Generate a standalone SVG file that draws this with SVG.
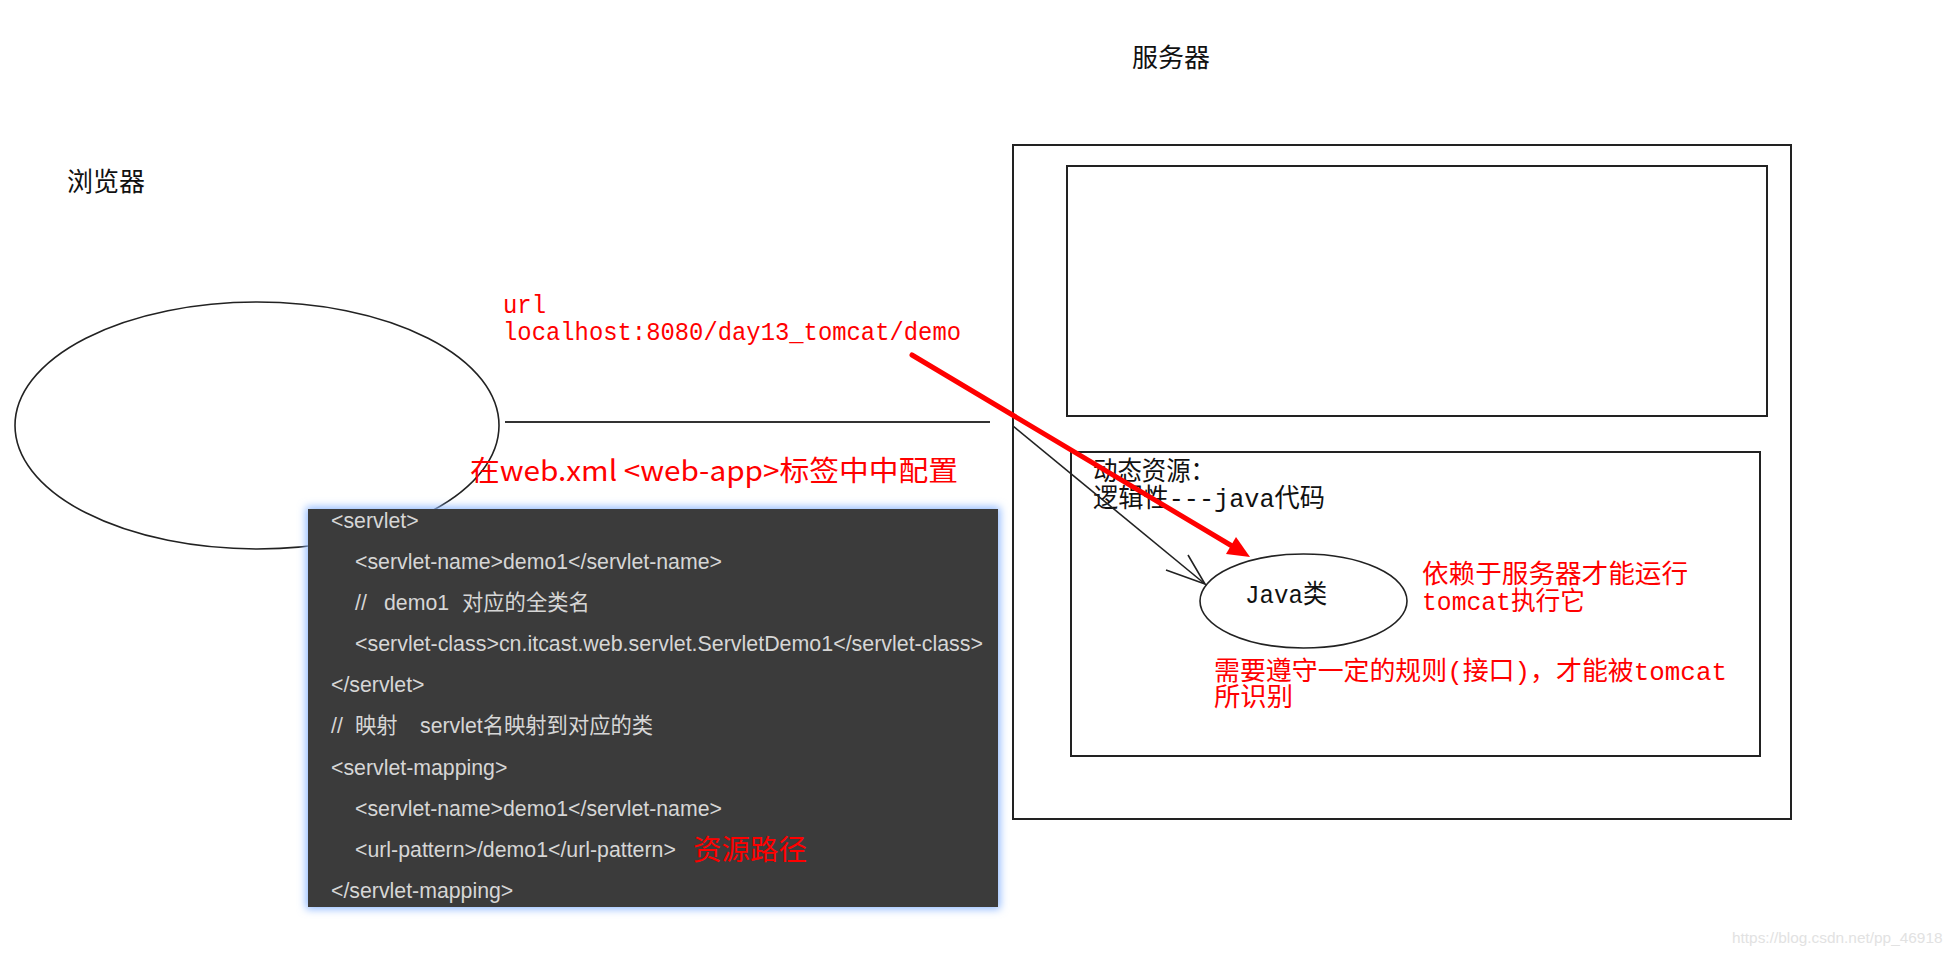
<svg xmlns="http://www.w3.org/2000/svg" width="1957" height="956" viewBox="0 0 1957 956">
<defs>
<style>
.ln{fill:none;stroke:#222;stroke-width:1.6}
.box{fill:none;stroke:#222;stroke-width:2}
.lbl{font-family:"Noto Sans CJK SC","Liberation Sans",sans-serif;font-size:26px;fill:#111}
.mono{font-family:"Liberation Mono","Noto Sans CJK SC",monospace;font-size:26px}
.red{fill:#ff0000}
.blk{fill:#111}
.code{font-family:"Liberation Sans","Noto Sans CJK SC",sans-serif;font-size:21.3px;fill:#d6d6d6}
.redsans{font-family:"Noto Sans CJK SC","Liberation Sans",sans-serif;fill:#ff0000}
</style>
<filter id="glow" x="-10%" y="-10%" width="120%" height="120%">
<feGaussianBlur stdDeviation="4"/>
</filter>
</defs>
<rect width="1957" height="956" fill="#ffffff"/>

<g id="browser">
<text class="lbl" x="67" y="191">浏览器</text>
<ellipse class="ln" cx="257" cy="425.5" rx="242" ry="123.5"/>
</g>

<g id="server">
<text class="lbl" x="1132" y="67">服务器</text>
<rect class="box" x="1013" y="145" width="778" height="674"/>
</g>

<g id="static-resources">
<rect class="box" x="1067" y="166" width="700" height="250"/>
</g>

<g id="dynamic-resources">
<rect class="box" x="1071" y="452" width="689" height="304"/>
<text class="mono blk" x="1093" y="480" textLength="122" lengthAdjust="spacingAndGlyphs">动态资源：</text>
<text class="mono blk" x="1093" y="507" textLength="232" lengthAdjust="spacingAndGlyphs">逻辑性---java代码</text>
<text class="mono red" x="1422" y="583" textLength="266" lengthAdjust="spacingAndGlyphs">依赖于服务器才能运行</text>
<text class="mono red" x="1422" y="610" textLength="163" lengthAdjust="spacingAndGlyphs">tomcat执行它</text>
<text class="mono red" x="1214" y="680" textLength="513" lengthAdjust="spacingAndGlyphs">需要遵守一定的规则(接口)，才能被tomcat</text>
<text class="mono red" x="1214" y="706" textLength="79" lengthAdjust="spacingAndGlyphs">所识别</text>
</g>

<g id="java-class">
<ellipse class="ln" cx="1303.5" cy="601" rx="103.5" ry="47"/>
<text class="mono blk" x="1245" y="603" font-size="27" textLength="82" lengthAdjust="spacingAndGlyphs">Java类</text>
</g>

<g id="url-label">
<text class="mono red" x="503" y="313" font-size="24" textLength="43" lengthAdjust="spacingAndGlyphs">url</text>
<text class="mono red" x="503" y="340" font-size="24" textLength="458" lengthAdjust="spacingAndGlyphs">localhost:8080/day13_tomcat/demo</text>
</g>

<g id="config-label">
<text class="redsans" x="470" y="481" font-size="28" textLength="488" lengthAdjust="spacingAndGlyphs">在web.xml &lt;web-app&gt;标签中中配置</text>
</g>

<g id="code-box">
<rect x="306" y="507" width="694" height="402" fill="#8db8ff" filter="url(#glow)"/>
<rect x="308" y="509" width="690" height="398" fill="#3b3b3b"/>
<text class="code" x="331" y="528">&lt;servlet&gt;</text>
<text class="code" x="355" y="569">&lt;servlet-name&gt;demo1&lt;/servlet-name&gt;</text>
<text class="code" y="610"><tspan x="355">//</tspan><tspan x="384">demo1</tspan><tspan x="462">对应的全类名</tspan></text>
<text class="code" x="355" y="651" textLength="628" lengthAdjust="spacingAndGlyphs">&lt;servlet-class&gt;cn.itcast.web.servlet.ServletDemo1&lt;/servlet-class&gt;</text>
<text class="code" x="331" y="692">&lt;/servlet&gt;</text>
<text class="code" y="733"><tspan x="331">//</tspan><tspan x="355">映射</tspan><tspan x="420">servlet名映射到对应的类</tspan></text>
<text class="code" x="331" y="775">&lt;servlet-mapping&gt;</text>
<text class="code" x="355" y="816">&lt;servlet-name&gt;demo1&lt;/servlet-name&gt;</text>
<text class="code" x="355" y="857">&lt;url-pattern&gt;/demo1&lt;/url-pattern&gt;</text>
<text class="redsans" x="693" y="860" font-size="28.5">资源路径</text>
<text class="code" x="331" y="898">&lt;/servlet-mapping&gt;</text>
</g>

<g id="connectors">
<line x1="505" y1="422" x2="990" y2="422" stroke="#333" stroke-width="1.8"/>
<line class="ln" x1="1013" y1="426" x2="1205" y2="584"/>
<polyline class="ln" points="1188,555 1205,584 1166,570"/>
<line x1="912" y1="355" x2="1232" y2="546" stroke="#ff0000" stroke-width="5" stroke-linecap="round"/>
<polygon points="1250,557 1226,554 1236,537" fill="#ff0000"/>
</g>

<text x="1732" y="943" font-family="Liberation Sans, sans-serif" font-size="15.4" fill="#e2e2e2">https://blog.csdn.net/pp_46918</text>
</svg>
